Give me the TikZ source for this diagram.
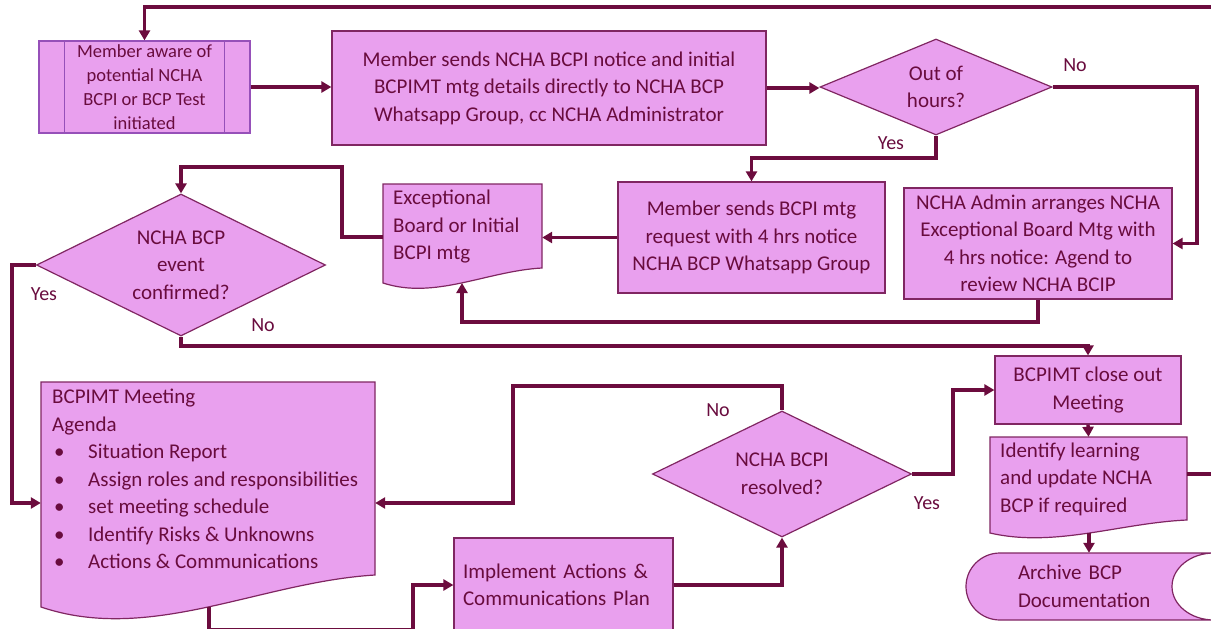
\documentclass[tikz,border=0pt]{standalone}
\usepackage{fontspec}
\setmainfont{Carlito}
\usetikzlibrary{shapes.geometric,arrows.meta,calc}
\definecolor{fillc}{RGB}{233,160,238}
\definecolor{bordc}{RGB}{128,38,98}
\definecolor{bord1}{RGB}{150,80,185}
\definecolor{linec}{RGB}{108,12,62}
\definecolor{txtc}{RGB}{105,12,62}
\tikzset{
 procbox/.style={rectangle, draw=bordc, fill=fillc, line width=1.2pt, text=txtc, align=center, inner sep=0pt, font=\fontsize{21}{27.5}\selectfont},
 decbox/.style={diamond, draw=bordc, fill=fillc, line width=1.2pt, text=txtc, align=center, inner sep=0pt, font=\fontsize{21}{27.5}\selectfont},
 docshape/.style={draw=bordc, fill=fillc, line width=1.2pt},
 area/.style={rectangle, draw=none, inner sep=0pt},
 txt/.style={text=txtc, align=left, inner sep=0pt, font=\fontsize{21}{27.5}\selectfont, anchor=west},
 lbl/.style={text=txtc, inner sep=0pt, font=\fontsize{20}{24}\selectfont},
 conn/.style={draw=linec, line width=3.4pt},
 arr/.style={conn, -{Triangle[length=10pt,width=11pt]}},
}
\begin{document}
\begin{tikzpicture}[x=1pt,y=-1pt]
\useasboundingbox (0,0) rectangle (1211,629);
\clip (0,0) rectangle (1211,629);

% predefined process
\node[procbox, draw=bord1, minimum width=211pt, minimum height=92pt, font=\fontsize{18.5}{24}\selectfont] (b1) at (144.5,87) {Member aware of\\potential NCHA\\BCPI or BCP Test\\initiated};
\draw[draw=bord1, line width=1.2pt] ($(b1.north west)+(26,0)$) -- ($(b1.south west)+(26,0)$);
\draw[draw=bord1, line width=1.2pt] ($(b1.north east)+(-26,0)$) -- ($(b1.south east)+(-26,0)$);

\node[procbox, minimum width=434pt, minimum height=114pt] (b2) at (549,88) {Member sends NCHA BCPI notice and initial\\BCPIMT mtg details directly to NCHA BCP\\Whatsapp Group, cc NCHA Administrator};

\node[decbox, minimum width=232pt, minimum height=96pt, aspect=2.42] (d1) at (936,87) {Out of\\hours?};

\node[procbox, minimum width=267pt, minimum height=111pt] (b3) at (751.5,237.5) {Member sends BCPI mtg\\request with 4 hrs notice\\NCHA BCP Whatsapp Group};

\node[procbox, minimum width=268pt, minimum height=111pt] (b4) at (1038,243.5) {NCHA Admin arranges NCHA\\Exceptional Board Mtg with\\4 hrs notice: Agend to\\review NCHA BCIP};

% document: exceptional board
\path[docshape] (383,184) -- (542,184) -- (542,268) .. controls (487,271) and (435,300) .. (383,283) -- cycle;
\node[area, minimum width=159pt, minimum height=106pt] (b5) at (462.5,237) {};
\node[txt] (b5t) at (393,227) {Exceptional\\Board or Initial\\BCPI mtg};
\coordinate (b5w) at (462,283);

\node[decbox, minimum width=289pt, minimum height=142pt, aspect=2.03] (d2) at (181,265) {NCHA BCP\\event\\confirmed?};

% document: agenda
\path[docshape] (41,382) -- (375,382) -- (375,575) .. controls (260,582) and (150,644) .. (41,607) -- cycle;
\node[area, minimum width=334pt, minimum height=242pt] (ag) at (208,503) {};
\node[txt] (agt) at (52,479) {BCPIMT Meeting\\Agenda\\
\hspace*{2pt}\makebox[34pt][l]{•}Situation Report\\
\hspace*{2pt}\makebox[34pt][l]{•}Assign roles and responsibilities\\
\hspace*{2pt}\makebox[34pt][l]{•}set meeting schedule\\
\hspace*{2pt}\makebox[34pt][l]{•}Identify Risks \& Unknowns\\
\hspace*{2pt}\makebox[34pt][l]{•}Actions \& Communications};
\coordinate (agw) at (209,607);

\node[procbox, minimum width=219pt, minimum height=94pt, align=left, text width=201pt] (im) at (563.5,585) {Implement Actions \&\\Communications Plan};

\node[decbox, minimum width=259pt, minimum height=126pt, aspect=2.06] (d3) at (782,474) {NCHA BCPI\\resolved?};

\node[procbox, minimum width=186pt, minimum height=68pt] (co) at (1088,390) {BCPIMT close out\\Meeting};

% document: identify
\path[docshape] (990,437) -- (1187,437) -- (1187,520) .. controls (1120,523) and (1055,548) .. (990,533) -- cycle;
\node[area, minimum width=197pt, minimum height=74pt] (id) at (1088.5,474) {};
\node[txt] (idt) at (1000,479) {Identify learning\\and update NCHA\\BCP if required};
\coordinate (idw) at (1089,533);

% stored data: archive
\path[docshape] (1000,553) -- (1214,553) .. controls (1190.8,553) and (1172,568) .. (1172,586.5) .. controls (1172,605) and (1190.8,620) .. (1214,620) -- (1000,620) .. controls (981.2,620) and (966,605) .. (966,586.5) .. controls (966,568) and (981.2,553) .. (1000,553) -- cycle;
\node[area, minimum width=248pt, minimum height=67pt, text width=144pt, align=left, text=txtc, font=\fontsize{21}{27.5}\selectfont] (ar) at (1090,586.5) {Archive BCP\\Documentation};

% connectors
\draw[arr] (b1.east) -- (b1.east -| b2.west);
\draw[arr] (b2.east) -- (b2.east -| d1.west);
\draw[arr] (d1.east) -- (1197,87) |- (b4.east);
\node[lbl] (l1) at (1075,65) {No};
\draw[arr] (d1.south) -- (936,158) -| (b3.north);
\node[lbl] (l2) at (891,143) {Yes};
\draw[arr] (b3.west) -- (b3.west -| b5.east);
\draw[arr] (b4.south) -- (1038,322) -| (b5w);
\draw[arr] (b5.west) -- (342,237) -- (342,167) -| (d2.north);
\draw[arr] (d2.west) -- (12,265) |- (ag.west);
\node[lbl] (l3) at (44,294) {Yes};
\draw[arr] (d2.south) -- (181,346) -| (co.north);
\node[lbl] (l4) at (263,325) {No};
\draw[arr] (agw) -- (209,629.5) -- (413,629.5) |- (im.west);
\draw[arr] (im.east) -| (d3.south);
\draw[arr] (d3.north) -- (782,386) -- (513,386) |- (ag.east);
\node[lbl] (l5) at (718,410) {No};
\draw[arr] (d3.east) -- (953,474) |- (co.west);
\node[lbl] (l6) at (927,503) {Yes};
\draw[arr] (co.south) -- (id.north);
\draw[arr] (idw) -- (idw |- ar.north);
\draw[arr] (id.east) -- (1213,474) -- (1213,7) -| (b1.north);
\end{tikzpicture}
\end{document}
